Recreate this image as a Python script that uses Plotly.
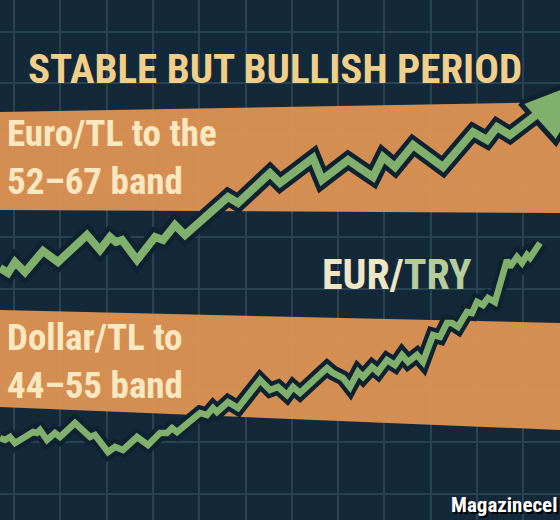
import plotly.graph_objects as go

# Upper (EUR/TL) line: horizontal position and row level (rows grow downward)
euro_x = [0, 4, 8, 15, 25, 43, 58, 87, 100, 110, 116, 122, 137, 155, 163, 175, 185, 228, 238, 270, 280,
          313, 322, 348, 373, 383, 395, 413, 443, 473, 487, 497, 510, 540]
euro_y = [268, 270, 273, 262, 272, 251, 262, 235, 250, 237, 242, 240, 260, 237, 240, 225, 235, 197, 203, 173, 183,
          158, 180, 160, 177, 157, 167, 145, 167, 132, 140, 127, 135, 112]

# Lower (USD/TL) line
usd_x = [0, 5, 10, 15, 25, 33, 37, 40, 47, 55, 60, 75, 90, 95, 108, 115, 123, 137, 148, 160, 167, 172, 177,
         200, 207, 213, 217, 228, 238, 260, 270, 278, 287, 293, 300, 320, 327, 333, 343, 350, 358, 363, 372,
         378, 387, 395, 402, 408, 417, 423, 433, 440, 447, 452, 458, 467, 472, 477, 483, 488, 495, 507, 510,
         517, 522, 527, 530, 540]
usd_y = [438, 440, 437, 443, 437, 432, 433, 430, 440, 433, 437, 423, 437, 435, 452, 447, 450, 437, 445, 433, 433, 428, 432,
         413, 415, 408, 412, 402, 408, 380, 390, 387, 395, 387, 393, 373, 368, 373, 378, 387, 372, 377, 367,
         372, 360, 365, 355, 362, 355, 362, 335, 337, 323, 323, 327, 312, 313, 302, 305, 298, 302, 260, 267,
         257, 263, 255, 258, 243]

# Arrow head of upper line
head_x = [520, 600, 556, 520]
head_y = [103, 72, 143, 103]

# Bands (corners)
band1_x = [0, 560, 560, 0]
band1_y = [112, 102, 213, 210]
band2_x = [0, 560, 560, 0]
band2_y = [310, 323, 430, 407]

BG = "#13293a"
GRID = "#284352"
ORANGE = "#dd9353"
GREEN = "#80b06c"
OUTLINE = "#0f2231"

fig = go.Figure()

def band_path(xs, ys):
    return "M " + " L ".join(f"{a},{b}" for a, b in zip(xs, ys)) + " Z"

shapes = [
    dict(type="path", path=band_path(band1_x, band1_y), xref="x", yref="y",
         fillcolor=ORANGE, line=dict(width=0), opacity=0.96, layer="between"),
    dict(type="path", path=band_path(band2_x, band2_y), xref="x", yref="y",
         fillcolor=ORANGE, line=dict(width=0), opacity=0.96, layer="between"),
]

# lower line
fig.add_trace(go.Scatter(x=usd_x, y=usd_y, mode="lines",
                         line=dict(color=OUTLINE, width=15), hoverinfo="skip"))
fig.add_trace(go.Scatter(x=usd_x, y=usd_y, mode="lines",
                         line=dict(color=GREEN, width=6.5), hoverinfo="skip"))
# upper line
fig.add_trace(go.Scatter(x=euro_x, y=euro_y, mode="lines",
                         line=dict(color=OUTLINE, width=17), hoverinfo="skip"))
fig.add_trace(go.Scatter(x=head_x, y=head_y, mode="lines", fill="toself",
                         fillcolor=GREEN, line=dict(color=OUTLINE, width=5), hoverinfo="skip"))
fig.add_trace(go.Scatter(x=euro_x, y=euro_y, mode="lines",
                         line=dict(color=GREEN, width=8), hoverinfo="skip"))

cond = "Liberation Sans Narrow, Roboto Condensed, DejaVu Sans Condensed, Arial Narrow, sans-serif"
CREAM = "#fbe8c0"

def label(x, y, text, size, color, anchor="left"):
    return dict(x=x, y=y, xref="x", yref="y", text=f"<b>{text}</b>", showarrow=False, align="left",
                font=dict(family=cond, size=size, color=color), xanchor=anchor, yanchor="middle")

annotations = [
    label(275, 69, "STABLE BUT BULLISH PERIOD", 41, "#f2cf89", "center"),
    label(5, 157, "Euro/TL to the<br>52–67 band", 37, CREAM),
    label(5, 361, "Dollar/TL to<br>44–55 band", 37, CREAM),
    dict(x=397, y=274, xref="x", yref="y",
         text="<b><span style='color:#efe6c6'>EUR/</span><span style='color:#b6cd9a'>TRY</span></b>",
         showarrow=False, font=dict(family=cond, size=42, color="#efe6c6"), xanchor="center", yanchor="middle"),
    dict(x=559, y=505, xref="x", yref="y", text="<b>Magazinecel</b>", showarrow=False,
         font=dict(family=cond, size=21, color="#ffffff", shadow="2px 2px 0px #000000"),
         xanchor="right", yanchor="middle"),
]

fig.update_layout(
    width=560, height=520, margin=dict(l=0, r=0, t=0, b=0),
    paper_bgcolor=BG, plot_bgcolor=BG, showlegend=False,
    shapes=shapes, annotations=annotations,
    xaxis=dict(range=[0, 560], showgrid=True, gridcolor=GRID, gridwidth=2, tick0=14, dtick=46.3,
               zeroline=False, showticklabels=False, ticks="", fixedrange=True),
    yaxis=dict(range=[520, 0], showgrid=True, gridcolor=GRID, gridwidth=2, tick0=32, dtick=51.3,
               zeroline=False, showticklabels=False, ticks="", fixedrange=True),
)

fig.write_html("out.html", config={"displayModeBar": False},
               post_script="document.body.style.margin='0';document.body.style.background='#13293a';")
